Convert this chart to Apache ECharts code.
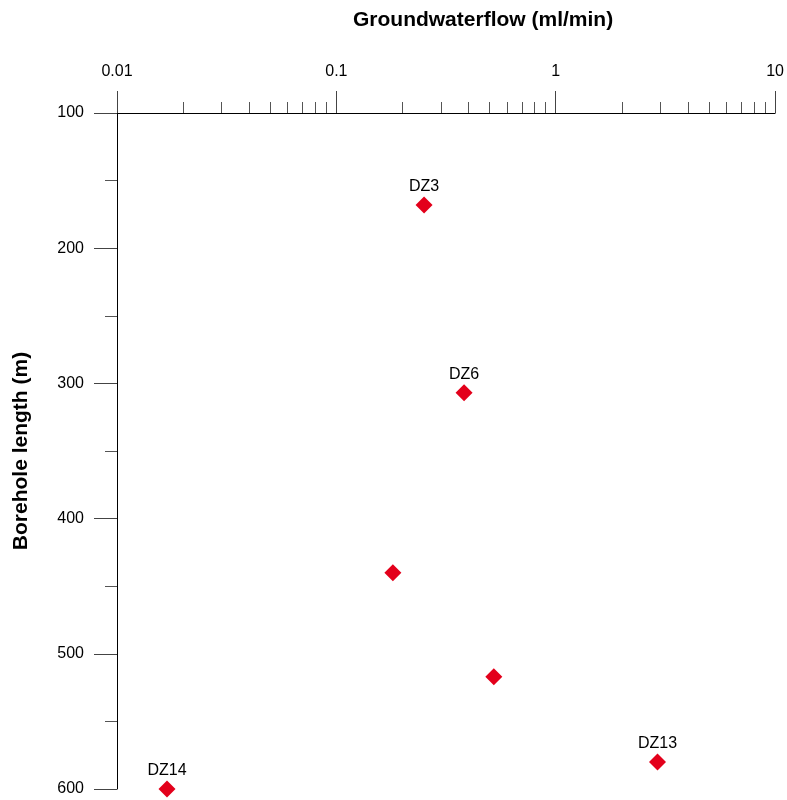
<!DOCTYPE html>
<html>
<head>
<meta charset="utf-8">
<script src="https://cdn.jsdelivr.net/npm/echarts@6/dist/echarts.min.js"></script>
<style>
  html, body { margin: 0; padding: 0; background: #fff; }
  #chart { width: 787px; height: 800px; }
</style>
</head>
<body>
<div id="chart"></div>
<script>
// Borehole measurements: groundwater inflow vs. borehole length
const boreholeNames = ['DZ3', 'DZ6', '', '', 'DZ13', 'DZ14'];
const flowValues = [0.251, 0.382, 0.181, 0.522, 2.91, 0.0169];
const lengthValues = [168, 307, 440, 517, 580, 600];

const xMajorTicks = [0.01, 0.1, 1, 10];
const xMinorTicks = [0.02, 0.03, 0.04, 0.05, 0.06, 0.07, 0.08, 0.09,
                     0.2, 0.3, 0.4, 0.5, 0.6, 0.7, 0.8, 0.9,
                     2, 3, 4, 5, 6, 7, 8, 9];

const points = flowValues.map((v, i) => ({
  value: [v, lengthValues[i]],
  name: boreholeNames[i],
  label: { show: boreholeNames[i] !== '' }
}));

const font = '"Liberation Sans", Arial, sans-serif';
const chart = echarts.init(document.getElementById('chart'), null, { renderer: 'canvas' });

chart.setOption({
  animation: false,
  backgroundColor: '#fff',
  grid: { left: 117, right: 11, top: 113, bottom: 11, containLabel: false },
  xAxis: [
    {
      type: 'log',
      logBase: 10,
      position: 'top',
      min: 0.01,
      max: 10,
      name: 'Groundwaterflow (ml/min)',
      nameLocation: 'middle',
      nameGap: 82,
      nameTextStyle: { fontFamily: font, fontSize: 21, fontWeight: 'bold', color: '#000', padding: [0, 0, 0, 74] },
      axisLine: { show: true, lineStyle: { color: '#000', width: 1 } },
      axisTick: { show: true, inside: false, length: 22, customValues: xMajorTicks, lineStyle: { color: '#444' } },
      axisLabel: {
        show: true, margin: 33, fontFamily: font, fontSize: 16, color: '#000',
        customValues: xMajorTicks,
        formatter: v => String(+v.toPrecision(6))
      },
      splitLine: { show: false }
    },
    {
      type: 'log',
      logBase: 10,
      position: 'top',
      min: 0.01,
      max: 10,
      axisLine: { show: false },
      axisTick: { show: true, inside: false, length: 11, customValues: xMinorTicks, lineStyle: { color: '#555' } },
      axisLabel: { show: false },
      splitLine: { show: false }
    }
  ],
  yAxis: {
    type: 'value',
    inverse: true,
    min: 100,
    max: 600,
    interval: 100,
    name: 'Borehole length (m)',
    nameLocation: 'middle',
    nameGap: 85,
    nameTextStyle: { fontFamily: font, fontSize: 21, fontWeight: 'bold', color: '#000' },
    axisLine: { show: true, lineStyle: { color: '#000', width: 1 } },
    axisTick: { show: true, inside: false, length: 23, lineStyle: { color: '#444' } },
    minorTick: { show: true, splitNumber: 2, length: 12, lineStyle: { color: '#555' } },
    axisLabel: { margin: 33, fontFamily: font, fontSize: 16, color: '#000' },
    splitLine: { show: false }
  },
  series: [{
    type: 'scatter',
    xAxisIndex: 0,
    symbol: 'diamond',
    symbolSize: 17,
    itemStyle: { color: '#e3001b', opacity: 1 },
    label: {
      position: 'top',
      distance: 2,
      formatter: p => p.name,
      fontFamily: font,
      fontSize: 16,
      color: '#000'
    },
    data: points
  }]
});
</script>
</body>
</html>
